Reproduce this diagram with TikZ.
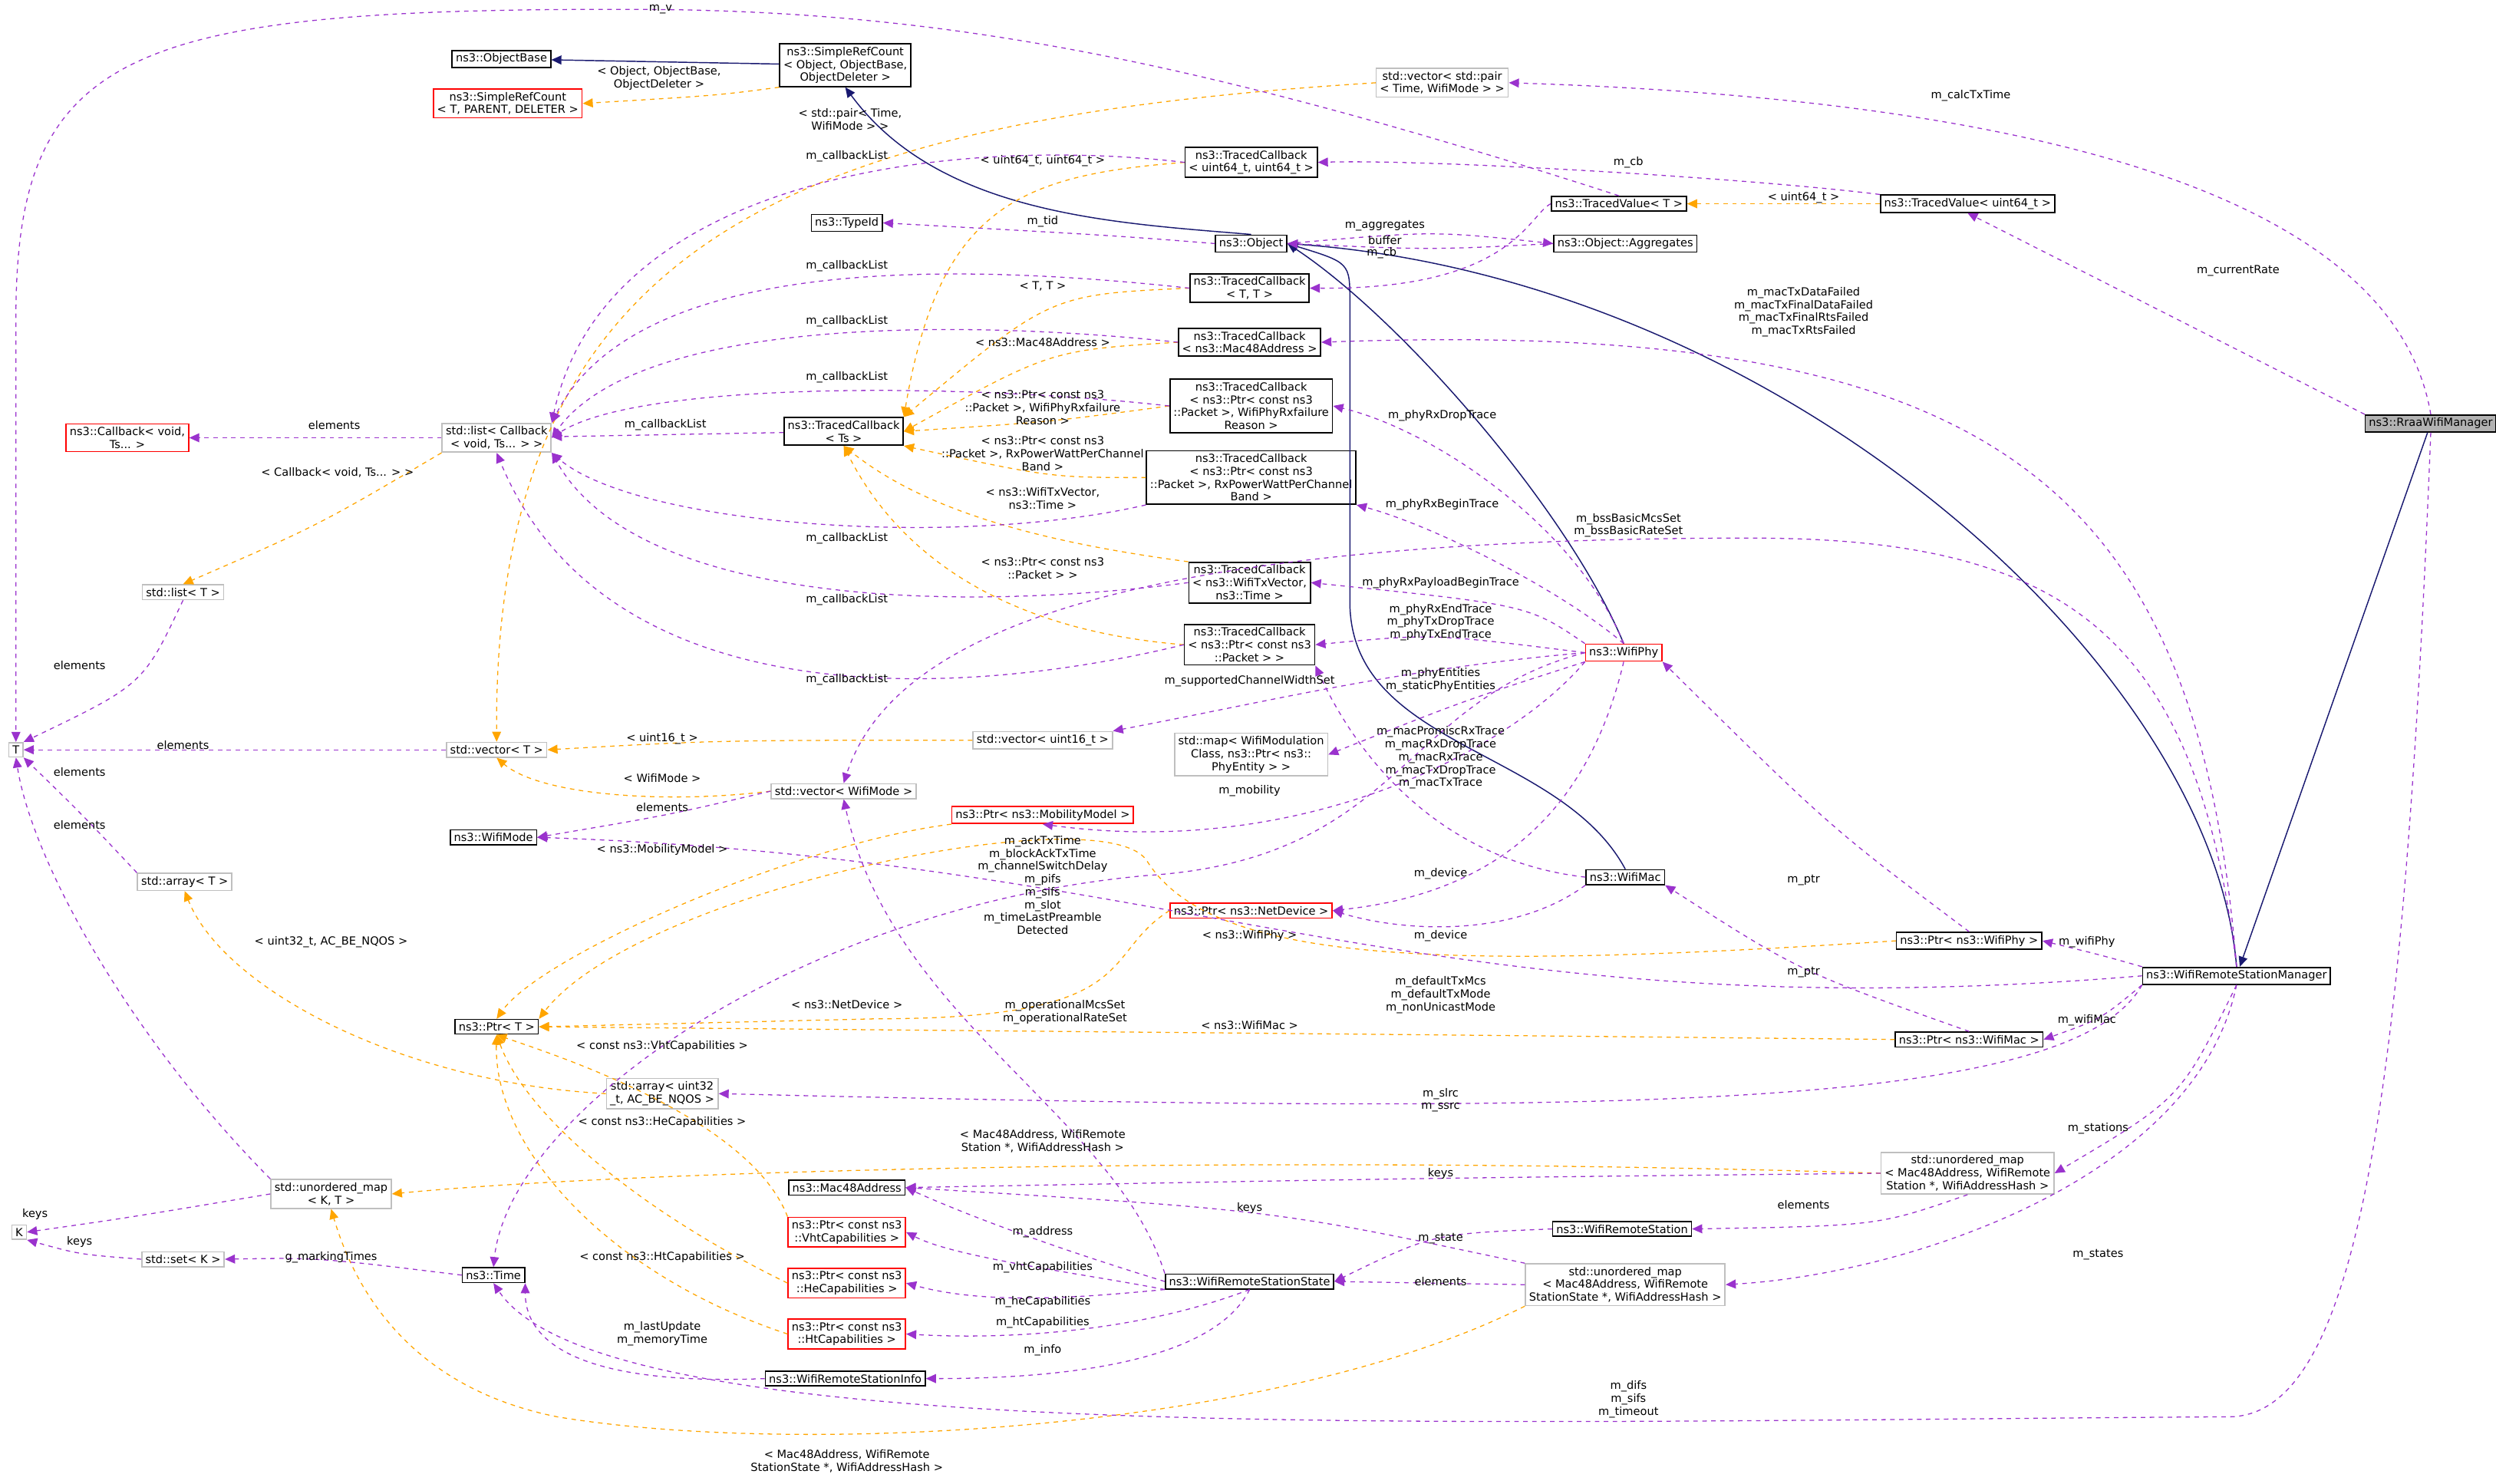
\documentclass[tikz,border=0pt]{standalone}
\usepackage{fontspec}
\setmainfont{DejaVu Sans}
\usetikzlibrary{arrows.meta}
\definecolor{memcol}{HTML}{9A32CD}
\definecolor{tplcol}{HTML}{FFA500}
\definecolor{inhcol}{HTML}{191970}
\tikzset{
  box/.style={draw=black, line width=0.45pt, fill=white, inner xsep=1.3pt, inner ysep=1.1pt, align=center, font=\fontsize{4}{4.6}\selectfont},
  gbox/.style={box, draw=black!25},
  rbox/.style={box, draw=red},
  hbox/.style={box, fill=black!30},
  lbl/.style={inner sep=0pt, align=center, font=\fontsize{4}{4.6}\selectfont},
  mem/.style={draw=memcol, dashed, dash pattern=on 1.6pt off 1.6pt, line width=0.35pt, -{Triangle[length=3.6pt,width=3.2pt]}},
  tpl/.style={draw=tplcol, dashed, dash pattern=on 1.6pt off 1.6pt, line width=0.35pt, -{Triangle[length=3.6pt,width=3.2pt]}},
  inh/.style={draw=inhcol, line width=0.4pt, -{Triangle[length=3.6pt,width=3.2pt]}},
}
\begin{document}
\begin{tikzpicture}[x=0.02cm, y=-0.02cm]
  \useasboundingbox (0,0) rectangle (1568,932);
  % classes
  \node[hbox] (rraa) at (1527,266) {ns3::RraaWifiManager};
  \node[box] (wrsm) at (1405,613) {ns3::WifiRemoteStationManager};
  \node[box] (ptrphy) at (1237,591) {ns3::Ptr< ns3::WifiPhy >};
  \node[box] (ptrmac) at (1237,653) {ns3::Ptr< ns3::WifiMac >};
  \node[rbox] (wifiphy) at (1020,410) {ns3::WifiPhy};
  \node[box] (wifimac) at (1021,551) {ns3::WifiMac};
  \node[box] (wrs) at (1019,772) {ns3::WifiRemoteStation};
  \node[gbox] (umapsta) at (1236,737) {std::unordered\_map\\< Mac48Address, WifiRemote\\Station *, WifiAddressHash >};
  \node[gbox] (umapstate) at (1021,807) {std::unordered\_map\\< Mac48Address, WifiRemote\\StationState *, WifiAddressHash >};
  \node[box] (state) at (785,805) {ns3::WifiRemoteStationState};
  \node[box] (info) at (531,866) {ns3::WifiRemoteStationInfo};
  \node[rbox] (ptrht) at (532,838) {ns3::Ptr< const ns3\\::HtCapabilities >};
  \node[rbox] (ptrhe) at (532,806) {ns3::Ptr< const ns3\\::HeCapabilities >};
  \node[rbox] (ptrvht) at (532,774) {ns3::Ptr< const ns3\\::VhtCapabilities >};
  \node[box] (mac48) at (532,746) {ns3::Mac48Address};
  \node[box] (time) at (310,801) {ns3::Time};
  \node[gbox] (setk) at (115,791) {std::set< K >};
  \node[gbox] (k) at (12,774) {K};
  \node[gbox] (umapkt) at (208,750) {std::unordered\_map\\< K, T >};
  \node[gbox] (arr32) at (416,687) {std::array< uint32\\\_t, AC\_BE\_NQOS >};
  \node[box] (ptrt) at (312,645) {ns3::Ptr< T >};
  \node[gbox] (arrt) at (116,554) {std::array< T >};
  \node[box] (wifimode) at (310,526) {ns3::WifiMode};
  \node[gbox] (vwm) at (530,497) {std::vector< WifiMode >};
  \node[gbox] (vect) at (312,471) {std::vector< T >};
  \node[gbox] (t) at (10,471) {T};
  \node[gbox] (listt) at (115,372) {std::list< T >};
  \node[gbox] (listcb) at (312,275) {std::list< Callback\\< void, Ts... > >};
  \node[rbox] (cb) at (80,275) {ns3::Callback< void,\\Ts... >};
  \node[box] (tcts) at (530,271) {ns3::TracedCallback\\< Ts >};
  \node[box] (typeid) at (532,140) {ns3::TypeId};
  \node[box] (objbase) at (315,37) {ns3::ObjectBase};
  \node[rbox] (srct) at (319,65) {ns3::SimpleRefCount\\< T, PARENT, DELETER >};
  \node[box] (srcobj) at (531,41) {ns3::SimpleRefCount\\< Object, ObjectBase,\\ObjectDeleter >};
  \node[gbox] (vecpair) at (906,52) {std::vector< std::pair\\< Time, WifiMode > >};
  \node[box] (tc64) at (786,102) {ns3::TracedCallback\\< uint64\_t, uint64\_t >};
  \node[box] (tvt) at (1017,128) {ns3::TracedValue< T >};
  \node[box] (tv64) at (1236,128) {ns3::TracedValue< uint64\_t >};
  \node[box] (object) at (786,153) {ns3::Object};
  \node[box] (agg) at (1021,153) {ns3::Object::Aggregates};
  \node[box] (tctt) at (785,181) {ns3::TracedCallback\\< T, T >};
  \node[box] (tcmac) at (785,215) {ns3::TracedCallback\\< ns3::Mac48Address >};
  \node[box] (rxfail) at (786,255) {ns3::TracedCallback\\< ns3::Ptr< const ns3\\::Packet >, WifiPhyRxfailure\\Reason >};
  \node[box] (rxpow) at (786,300) {ns3::TracedCallback\\< ns3::Ptr< const ns3\\::Packet >, RxPowerWattPerChannel\\Band >};
  \node[box] (wtx) at (785,366) {ns3::TracedCallback\\< ns3::WifiTxVector,\\ns3::Time >};
  \node[box] (pkt) at (785,405) {ns3::TracedCallback\\< ns3::Ptr< const ns3\\::Packet > >};
  \node[gbox] (vec16) at (655,465) {std::vector< uint16\_t >};
  \node[gbox] (phymap) at (786,474) {std::map< WifiModulation\\Class, ns3::Ptr< ns3::\\PhyEntity > >};
  \node[rbox] (ptrmob) at (655,512) {ns3::Ptr< ns3::MobilityModel >};
  \node[rbox] (ptrnd) at (786,572) {ns3::Ptr< ns3::NetDevice >};

  % inheritance
  \draw[inh] (rraa) -- (wrsm);
  \draw[inh] (wrsm.north) .. controls (1390,420) and (1120,175) .. (object.east);
  \draw[inh] (wifiphy.north) .. controls (985,320) and (880,200) .. (object.east);
  \draw[inh] (wifimac.north) .. controls (980,470) and (850,470) .. (848,380) -- (848,190) .. controls (848,165) .. (object.east);
  \draw[inh] (object.north) .. controls (700,140) and (590,135) .. (srcobj.south);
  \draw[inh] (srcobj) -- (objbase);

  % templates
  \draw[tpl] (srcobj.south west) .. controls (450,60) .. (srct.east);
  \draw[tpl] (vecpair.west) .. controls (500,75) and (310,150) .. (vect.north);
  \draw[tpl] (tc64.west) .. controls (640,110) and (590,130) .. (tcts.north east);
  \draw[tpl] (tctt.west) .. controls (660,185) .. (tcts.north east);
  \draw[tpl] (tcmac.west) .. controls (660,220) .. (tcts.east);
  \draw[tpl] (rxfail.west) .. controls (660,265) .. (tcts.east);
  \draw[tpl] (rxpow.west) .. controls (660,300) .. (tcts.south east);
  \draw[tpl] (wtx.north west) .. controls (650,340) and (580,320) .. (tcts.south);
  \draw[tpl] (pkt.west) .. controls (620,395) and (560,340) .. (tcts.south);
  \draw[tpl] (tv64) -- (tvt);
  \draw[tpl] (listcb.south west) .. controls (200,330) .. (listt.north);
  \draw[tpl] (vec16.west) .. controls (450,465) .. (vect.east);
  \draw[tpl] (vwm.west) .. controls (420,505) and (340,500) .. (vect.south);
  \draw[tpl] (ptrmob.south west) .. controls (500,530) and (340,600) .. (ptrt.north);
  \draw[tpl] (ptrnd.west) .. controls (690,600) and (720,640) .. (550,640) -- (ptrt.east);
  \draw[tpl] (ptrphy.west) .. controls (900,610) and (760,605) .. (720,540) .. controls (690,500) and (400,560) .. (ptrt.north east);
  \draw[tpl] (ptrmac.west) .. controls (900,650) .. (ptrt.east);
  \draw[tpl] (ptrvht.north west) .. controls (470,700) and (340,660) .. (ptrt.south);
  \draw[tpl] (ptrhe.west) .. controls (400,760) and (330,700) .. (ptrt.south);
  \draw[tpl] (ptrht.west) .. controls (380,800) and (310,720) .. (ptrt.south);
  \draw[tpl] (arr32.west) .. controls (250,680) and (140,620) .. (arrt.south);
  \draw[tpl] (umapsta.west) .. controls (800,725) and (400,735) .. (umapkt.east);
  \draw[tpl] (umapstate.south west) .. controls (800,900) and (500,915) .. (350,890) .. controls (250,870) and (220,800) .. (umapkt.south);

  % members
  \draw[mem] (tvt.north) .. controls (760,40) and (600,8) .. (415,6) .. controls (80,4) and (10,30) .. (10,200) -- (t.north);
  \draw[mem] (rraa.north) .. controls (1500,100) and (1200,60) .. (vecpair.east);
  \draw[mem] (rraa.north west) -- (tv64.south);
  \draw[mem] (rraa.south) .. controls (1510,700) and (1480,890) .. (1400,890) .. controls (900,893) and (380,910) .. (time.south);
  \draw[mem] (tv64.north west) .. controls (1100,112) and (900,100) .. (tc64.east);
  \draw[mem] (tvt.west) .. controls (960,135) and (950,182) .. (tctt.east);
  \draw[mem] (object.west) .. controls (700,148) .. (typeid.east);
  \draw[mem] (object.east) .. controls (900,145) .. (agg.west);
  \draw[mem] (agg.west) .. controls (900,157) .. (object.east);
  \draw[mem] (wrsm.north) .. controls (1380,300) and (1250,200) .. (tcmac.east);
  \draw[mem] (wrsm.north) .. controls (1380,400) and (1300,338) .. (1100,338) .. controls (700,338) and (560,400) .. (vwm.north);
  \draw[mem] (wrsm.west) .. controls (900,650) and (750,540) .. (wifimode.east);
  \draw[mem] (wrsm.north west) .. controls (1320,600) .. (ptrphy.east);
  \draw[mem] (wrsm.south west) .. controls (1320,640) .. (ptrmac.east);
  \draw[mem] (wrsm.south west) .. controls (1300,700) and (1000,700) .. (arr32.east);
  \draw[mem] (wrsm.south) .. controls (1370,690) .. (umapsta.east);
  \draw[mem] (wrsm.south) .. controls (1380,740) and (1200,800) .. (umapstate.east);
  \draw[mem] (ptrphy.north) .. controls (1150,520) .. (wifiphy.south east);
  \draw[mem] (ptrmac.north) .. controls (1130,610) .. (wifimac.south east);
  \draw[mem] (wifiphy.north) .. controls (990,330) and (900,270) .. (rxfail.east);
  \draw[mem] (wifiphy.north) .. controls (980,370) and (900,330) .. (rxpow.south east);
  \draw[mem] (wifiphy.north west) .. controls (960,380) .. (wtx.east);
  \draw[mem] (wifiphy.west) .. controls (900,398) .. (pkt.east);
  \draw[mem] (wifiphy.west) .. controls (880,420) and (800,440) .. (vec16.north east);
  \draw[mem] (wifiphy.south west) .. controls (920,440) .. (phymap.east);
  \draw[mem] (wifiphy.south west) .. controls (950,470) and (820,540) .. (ptrmob.south);
  \draw[mem] (wifiphy.south) .. controls (1000,500) and (950,560) .. (ptrnd.east);
  \draw[mem] (wifiphy.west) .. controls (880,440) and (880,540) .. (720,550) .. controls (500,570) and (320,700) .. (time.north);
  \draw[mem] (wifimac.west) .. controls (900,540) and (850,470) .. (pkt.south east);
  \draw[mem] (wifimac.south west) .. controls (950,590) and (880,585) .. (ptrnd.east);
  \draw[mem] (tc64.west) .. controls (600,85) and (380,110) .. (listcb.north east);
  \draw[mem] (tctt.west) .. controls (600,165) and (400,160) .. (listcb.north east);
  \draw[mem] (tcmac.west) .. controls (600,200) and (400,200) .. (listcb.east);
  \draw[mem] (rxfail.west) .. controls (600,240) and (400,240) .. (listcb.east);
  \draw[mem] (tcts) -- (listcb);
  \draw[mem] (rxpow.south west) .. controls (600,345) and (400,330) .. (listcb.south east);
  \draw[mem] (wtx.west) .. controls (600,385) and (400,380) .. (listcb.south east);
  \draw[mem] (pkt.west) .. controls (600,440) and (380,450) .. (listcb.south);
  \draw[mem] (listcb) -- (cb);
  \draw[mem] (listt.south) .. controls (90,430) .. (t.north east);
  \draw[mem] (vect) -- (t);
  \draw[mem] (arrt.north west) .. controls (50,510) .. (t.south east);
  \draw[mem] (umapkt.north west) .. controls (80,650) and (20,540) .. (t.south);
  \draw[mem] (umapkt.west) .. controls (80,765) .. (k.east);
  \draw[mem] (setk.west) .. controls (50,788) .. (k.south east);
  \draw[mem] (vwm.west) .. controls (420,512) .. (wifimode.east);
  \draw[mem] (time.west) .. controls (200,790) .. (setk.east);
  \draw[mem] (info.west) .. controls (380,870) and (330,850) .. (time.south east);
  \draw[mem] (state.west) .. controls (650,780) and (600,760) .. (mac48.east);
  \draw[mem] (state.south west) .. controls (680,800) and (600,790) .. (ptrvht.east);
  \draw[mem] (state.south west) .. controls (680,815) and (620,820) .. (ptrhe.east);
  \draw[mem] (state.south) .. controls (720,835) and (640,842) .. (ptrht.east);
  \draw[mem] (state.south) .. controls (760,860) and (650,866) .. (info.east);
  \draw[mem] (state.north west) .. controls (700,700) and (560,640) .. (vwm.south);
  \draw[mem] (wrs.west) .. controls (900,775) .. (state.east);
  \draw[mem] (umapsta.west) .. controls (900,740) .. (mac48.east);
  \draw[mem] (umapsta.south) .. controls (1180,770) .. (wrs.east);
  \draw[mem] (umapstate.north west) .. controls (800,760) .. (mac48.east);
  \draw[mem] (umapstate.west) -- (state.east);

  % labels
  \node[lbl] (l01) at (415,6) {m\_v};
  \node[lbl] (l02) at (1238,60) {m\_calcTxTime};
  \node[lbl] (l03) at (534,75) {< std::pair< Time,\\WifiMode > >};
  \node[lbl] (l04) at (414,49) {< Object, ObjectBase,\\ObjectDeleter >};
  \node[lbl] (l05) at (532,98) {m\_callbackList};
  \node[lbl] (l06) at (655,101) {< uint64\_t, uint64\_t >};
  \node[lbl] (l07) at (1023,102) {m\_cb};
  \node[lbl] (l08) at (655,139) {m\_tid};
  \node[lbl] (l09) at (870,142) {m\_aggregates};
  \node[lbl] (l10) at (1133,124) {< uint64\_t >};
  \node[lbl] (l11) at (870,151) {buffer};
  \node[lbl] (l12) at (868,159) {m\_cb};
  \node[lbl] (l13) at (1406,170) {m\_currentRate};
  \node[lbl] (l14) at (532,167) {m\_callbackList};
  \node[lbl] (l15) at (655,180) {< T, T >};
  \node[lbl] (l16) at (532,202) {m\_callbackList};
  \node[lbl] (l17) at (655,215) {< ns3::Mac48Address >};
  \node[lbl] (l18) at (1133,196) {m\_macTxDataFailed\\m\_macTxFinalDataFailed\\m\_macTxFinalRtsFailed\\m\_macTxRtsFailed};
  \node[lbl] (l19) at (532,237) {m\_callbackList};
  \node[lbl] (l20) at (210,267) {elements};
  \node[lbl] (l21) at (418,267) {m\_callbackList};
  \node[lbl] (l22) at (655,256) {< ns3::Ptr< const ns3\\::Packet >, WifiPhyRxfailure\\Reason >};
  \node[lbl] (l23) at (906,261) {m\_phyRxDropTrace};
  \node[lbl] (l24) at (655,285) {< ns3::Ptr< const ns3\\::Packet >, RxPowerWattPerChannel\\Band >};
  \node[lbl] (l25) at (212,297) {< Callback< void, Ts... > >};
  \node[lbl] (l26) at (906,317) {m\_phyRxBeginTrace};
  \node[lbl] (l27) at (655,313) {< ns3::WifiTxVector,\\ns3::Time >};
  \node[lbl] (l28) at (1023,330) {m\_bssBasicMcsSet\\m\_bssBasicRateSet};
  \node[lbl] (l29) at (532,338) {m\_callbackList};
  \node[lbl] (l30) at (655,357) {< ns3::Ptr< const ns3\\::Packet > >};
  \node[lbl] (l31) at (905,366) {m\_phyRxPayloadBeginTrace};
  \node[lbl] (l32) at (532,377) {m\_callbackList};
  \node[lbl] (l33) at (905,391) {m\_phyRxEndTrace\\m\_phyTxDropTrace\\m\_phyTxEndTrace};
  \node[lbl] (l34) at (50,418) {elements};
  \node[lbl] (l35) at (532,427) {m\_callbackList};
  \node[lbl] (l36) at (785,428) {m\_supportedChannelWidthSet};
  \node[lbl] (l37) at (905,427) {m\_phyEntities\\m\_staticPhyEntities};
  \node[lbl] (l38) at (416,464) {< uint16\_t >};
  \node[lbl] (l39) at (115,468) {elements};
  \node[lbl] (l40) at (905,476) {m\_macPromiscRxTrace\\m\_macRxDropTrace\\m\_macRxTrace\\m\_macTxDropTrace\\m\_macTxTrace};
  \node[lbl] (l41) at (50,485) {elements};
  \node[lbl] (l42) at (416,489) {< WifiMode >};
  \node[lbl] (l43) at (785,497) {m\_mobility};
  \node[lbl] (l44) at (416,507) {elements};
  \node[lbl] (l45) at (50,518) {elements};
  \node[lbl] (l46) at (655,556) {m\_ackTxTime\\m\_blockAckTxTime\\m\_channelSwitchDelay\\m\_pifs\\m\_sifs\\m\_slot\\m\_timeLastPreamble\\Detected};
  \node[lbl] (l47) at (416,534) {< ns3::MobilityModel >};
  \node[lbl] (l48) at (905,549) {m\_device};
  \node[lbl] (l49) at (905,588) {m\_device};
  \node[lbl] (l50) at (785,588) {< ns3::WifiPhy >};
  \node[lbl] (l51) at (1133,553) {m\_ptr};
  \node[lbl] (l52) at (1311,592) {m\_wifiPhy};
  \node[lbl] (l53) at (208,592) {< uint32\_t, AC\_BE\_NQOS >};
  \node[lbl] (l54) at (905,625) {m\_defaultTxMcs\\m\_defaultTxMode\\m\_nonUnicastMode};
  \node[lbl] (l55) at (1133,611) {m\_ptr};
  \node[lbl] (l56) at (532,631) {< ns3::NetDevice >};
  \node[lbl] (l57) at (669,636) {m\_operationalMcsSet\\m\_operationalRateSet};
  \node[lbl] (l58) at (785,644) {< ns3::WifiMac >};
  \node[lbl] (l59) at (1311,641) {m\_wifiMac};
  \node[lbl] (l60) at (416,657) {< const ns3::VhtCapabilities >};
  \node[lbl] (l61) at (905,691) {m\_slrc\\m\_ssrc};
  \node[lbl] (l62) at (416,705) {< const ns3::HeCapabilities >};
  \node[lbl] (l63) at (1318,709) {m\_stations};
  \node[lbl] (l64) at (655,717) {< Mac48Address, WifiRemote\\Station *, WifiAddressHash >};
  \node[lbl] (l65) at (905,737) {keys};
  \node[lbl] (l66) at (22,763) {keys};
  \node[lbl] (l67) at (785,759) {keys};
  \node[lbl] (l68) at (655,774) {m\_address};
  \node[lbl] (l69) at (1133,757) {elements};
  \node[lbl] (l70) at (905,778) {m\_state};
  \node[lbl] (l71) at (1318,788) {m\_states};
  \node[lbl] (l72) at (50,780) {keys};
  \node[lbl] (l73) at (208,790) {g\_markingTimes};
  \node[lbl] (l74) at (416,790) {< const ns3::HtCapabilities >};
  \node[lbl] (l75) at (655,796) {m\_vhtCapabilities};
  \node[lbl] (l76) at (905,805) {elements};
  \node[lbl] (l77) at (655,818) {m\_heCapabilities};
  \node[lbl] (l78) at (416,838) {m\_lastUpdate\\m\_memoryTime};
  \node[lbl] (l79) at (655,831) {m\_htCapabilities};
  \node[lbl] (l80) at (655,848) {m\_info};
  \node[lbl] (l81) at (1023,879) {m\_difs\\m\_sifs\\m\_timeout};
  \node[lbl] (l82) at (532,918) {< Mac48Address, WifiRemote\\StationState *, WifiAddressHash >};
\end{tikzpicture}
\end{document}
